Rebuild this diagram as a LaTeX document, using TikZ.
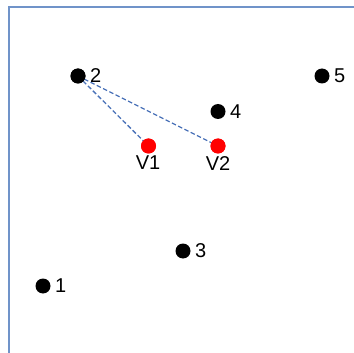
\documentclass[tikz,border=0pt]{standalone}
\usepackage{fontspec}
\setmainfont{Liberation Sans}
\definecolor{framecol}{HTML}{7093C9}
\definecolor{dashcol}{HTML}{4A72B8}
\begin{document}
\begin{tikzpicture}[x=1pt,y=-1pt,
  dot/.style={circle,fill=black,inner sep=0pt,minimum size=15pt},
  vdot/.style={circle,fill=red,inner sep=0pt,minimum size=15pt},
  lbl/.style={font=\fontsize{20}{20}\selectfont,inner sep=0pt},
  link/.style={dashcol,dashed,line width=1.3pt,dash pattern=on 4.5pt off 2.5pt}]
\useasboundingbox (0,0) rectangle (354,353);
\draw[framecol,line width=2pt] (8.5,353) -- (8.5,7.5) -- (354,7.5);
\node[dot] (n2) at (78,76) {};
\node[dot] (n5) at (322,76) {};
\node[dot] (n4) at (218,111.5) {};
\node[vdot] (v1) at (148.5,146) {};
\node[vdot] (v2) at (218,146) {};
\node[dot] (n3) at (183,251) {};
\node[dot] (n1) at (43,286) {};
\draw[link] (n2.center) -- (v1.center);
\draw[link] (n2.center) -- (v2.center);
\node[dot] at (78,76) {};
\node[vdot] at (148.5,146) {};
\node[vdot] at (218,146) {};
\node[lbl,anchor=west] (l2) at (90,76) {2};
\node[lbl,anchor=west] (l5) at (334,76) {5};
\node[lbl,anchor=west] (l4) at (230,111.5) {4};
\node[lbl,anchor=west] (l3) at (195,251) {3};
\node[lbl,anchor=west] (l1) at (55,286) {1};
\node[lbl,anchor=north] (lv1) at (148,156) {V1};
\node[lbl,anchor=north] (lv2) at (218,156) {V2};
\end{tikzpicture}
\end{document}
